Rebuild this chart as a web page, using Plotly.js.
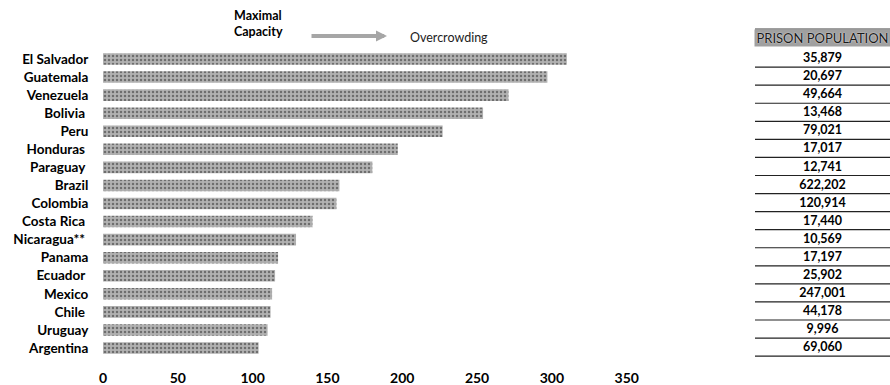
<!DOCTYPE html>
<html>
<head>
<meta charset="utf-8">
<script src="https://cdn.plot.ly/plotly-3.0.1.min.js"></script>
<style>html,body{margin:0;padding:0;background:#fff;}#chart{width:890px;height:385px;}</style>
</head>
<body>
<div id="chart"></div>
<script>
// ---- data ----
var countries = ["El Salvador","Guatemala","Venezuela","Bolivia","Peru","Honduras","Paraguay","Brazil","Colombia","Costa Rica","Nicaragua**","Panama","Ecuador","Mexico","Chile","Uruguay","Argentina"];
var countryLabels = ["El Salvador","Guatemala","Venezuela","Bolivia\u00a0","Peru","Honduras\u00a0","Paraguay\u00a0","Brazil","Colombia","Costa Rica\u00a0","Nicaragua**\u00a0","Panama","Ecuador\u00a0","Mexico","Chile\u00a0","Uruguay","Argentina"];
var occupancy = [310, 297, 271, 254, 227, 197, 180, 158, 156, 140, 129, 117, 115, 113, 112, 110, 104];
var prisonPopulation = [35879, 20697, 49664, 13468, 79021, 17017, 12741, 622202, 120914, 17440, 10569, 17197, 25902, 247001, 44178, 9996, 69060];
var xTicks = [0, 50, 100, 150, 200, 250, 300, 350];
var tableHeader = "PRISON POPULATION";
var legendFrom = "Maximal<br>Capacity";
var legendTo = "Overcrowding";

var FONT = "Lato, 'Open Sans', sans-serif";

var bars = {
  type: 'bar',
  orientation: 'h',
  y: countries,
  x: occupancy,
  xaxis: 'x', yaxis: 'y',
  marker: {
    color: '#a4a4a4',
    line: {width: 0},
    pattern: {shape: '.', fgcolor: '#6e6e6e', bgcolor: '#b2b2b2', size: 4, solidity: 0.3, fillmode: 'replace'}
  },
  hoverinfo: 'x+y',
  showlegend: false
};

var tableText = {
  type: 'scatter',
  mode: 'text',
  x: prisonPopulation.map(function(){ return 0.5; }),
  y: countries,
  text: prisonPopulation.map(function(v){ return v.toLocaleString('en-US'); }),
  textposition: 'middle center',
  textfont: {family: FONT, size: 12.5, color: '#000', weight: 'bold'},
  xaxis: 'x2', yaxis: 'y',
  hoverinfo: 'none',
  showlegend: false
};

var shapes = countries.map(function(c, i){
  return {type: 'line', xref: 'x2', yref: 'y', x0: 0, x1: 1, y0: i + 0.45, y1: i + 0.45,
          line: {color: '#222', width: 1.2}};
});

var W = 787, H = 307.5, L = 103, T = 50;
function px(p){ return (p - L) / W; }
function py(p){ return (T + H - p) / H; }

// header top border
shapes.push({type: 'line', xref: 'paper', yref: 'paper', x0: px(755), x1: px(890), y0: py(29), y1: py(29),
             line: {color: '#333', width: 1}});

var layout = {
  width: 890, height: 385,
  margin: {l: L, r: 0, t: T, b: 385 - T - H, pad: 0},
  paper_bgcolor: '#fff', plot_bgcolor: 'rgba(0,0,0,0)',
  font: {family: FONT, color: '#000'},
  bargap: 0.36,
  xaxis: {
    domain: [0, (626.7 - L) / W],
    range: [0, 350],
    tickvals: xTicks,
    ticktext: xTicks.map(String),
    showgrid: false, zeroline: false, showline: false,
    ticks: 'outside', ticklen: 8, tickcolor: 'rgba(0,0,0,0)',
    tickfont: {family: FONT, size: 14, color: '#000', weight: 'bold'},
    fixedrange: true
  },
  yaxis: {
    type: 'category',
    range: [countries.length - 0.5, -0.5],
    autorange: false,
    tickvals: countries,
    ticktext: countryLabels,
    showgrid: false, zeroline: false, showline: false,
    ticks: 'outside', ticklen: 11, tickcolor: 'rgba(0,0,0,0)',
    tickfont: {family: FONT, size: 13.5, color: '#000', weight: 'bold'},
    fixedrange: true
  },
  xaxis2: {
    domain: [(755 - L) / W, 1],
    range: [0, 1],
    anchor: 'y',
    visible: false,
    fixedrange: true
  },
  shapes: shapes,
  annotations: [
    {xref: 'paper', yref: 'paper', x: px(232), y: py(23), xanchor: 'left', yanchor: 'middle', align: 'left',
     text: legendFrom, showarrow: false,
     font: {family: FONT, size: 12.5, color: '#000', weight: 'bold'}},
    {xref: 'paper', yref: 'paper', x: px(387), y: py(36), text: '', showarrow: true,
     axref: 'pixel', ayref: 'pixel', ax: -77, ay: 0,
     arrowcolor: '#a6a6a6', arrowwidth: 4, arrowhead: 2, arrowsize: 0.55, standoff: 0, startstandoff: 0},
    {xref: 'paper', yref: 'paper', x: px(408), y: py(37.3), xanchor: 'left', yanchor: 'middle',
     text: legendTo, showarrow: false,
     font: {family: FONT, size: 12.5, color: '#222'}},
    {xref: 'paper', yref: 'paper', x: px(822.5), y: py(37.5), xanchor: 'center', yanchor: 'middle',
     text: tableHeader, showarrow: false, width: 135, height: 16,
     bgcolor: '#a0a0a0', borderpad: 0,
     font: {family: FONT, size: 13, color: '#1a1a1a', shadow: '0 0 1.5px #fff'}}
  ]
};

Plotly.newPlot('chart', [bars, tableText], layout, {displayModeBar: false, staticPlot: true});
</script>
</body>
</html>
